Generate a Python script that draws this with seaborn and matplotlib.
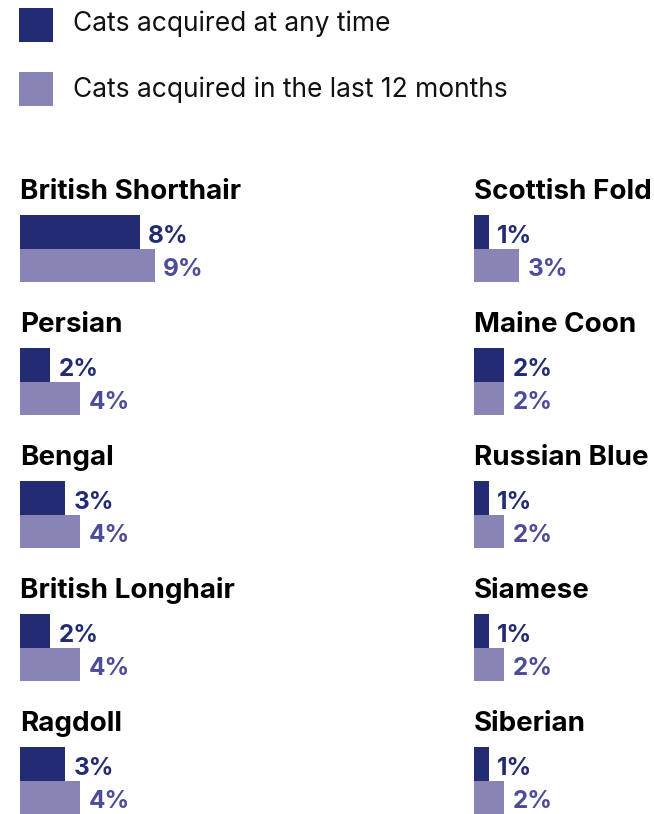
import matplotlib
matplotlib.use("Agg")
import matplotlib.pyplot as plt
from matplotlib.patches import Rectangle
import seaborn as sns
import pandas as pd

# Breed shares (%) by acquisition period
breeds_left = ["British Shorthair", "Persian", "Bengal", "British Longhair", "Ragdoll"]
any_time_left = [8, 2, 3, 2, 3]
last_12m_left = [9, 4, 4, 4, 4]

breeds_right = ["Scottish Fold", "Maine Coon", "Russian Blue", "Siamese", "Siberian"]
any_time_right = [1, 2, 1, 1, 1]
last_12m_right = [3, 2, 2, 2, 2]

series_names = ["Cats acquired at any time", "Cats acquired in the last 12 months"]
bar_colors = ["#232b73", "#8884b6"]
label_colors = ["#232b73", "#4d4c99"]

W, H = 654, 814
sns.set_theme(style="white")
plt.rcParams["font.family"] = ["Inter", "DejaVu Sans"]

fig = plt.figure(figsize=(W / 100, H / 100), dpi=100)
fig.patch.set_facecolor("white")


def fx(x):
    return x / W


def fy(y):
    return 1 - y / H


def px_axes(x, y_top, w, h):
    return fig.add_axes([x / W, 1 - (y_top + h) / H, w / W, h / H])


PX_PER_PCT = 15.0
AX_W = 180
BAR_BLOCK = 67
ROW_STEP = 133


def draw_panel(x0, y_bar_top, breed, v_any, v_recent):
    df = pd.DataFrame({"series": series_names, "value": [v_any, v_recent]})
    ax = px_axes(x0, y_bar_top, AX_W, BAR_BLOCK)
    sns.barplot(data=df, x="value", y="series", hue="series", palette=bar_colors,
                width=1.0, orient="h", legend=False, ax=ax, saturation=1,
                linewidth=0, edgecolor="none")
    ax.set_xlim(0, AX_W / PX_PER_PCT)
    ax.set_ylim(1.5, -0.5)
    ax.set_axis_off()
    for i, v in enumerate([v_any, v_recent]):
        ax.annotate(f"{v}%", xy=(v, i), xytext=(6, -8.0), textcoords="offset points",
                    ha="left", va="baseline", fontsize=17.5, fontweight="bold",
                    color=label_colors[i])
    fig.text(fx(x0), fy(y_bar_top - 16), breed, ha="left", va="baseline",
             fontsize=20, fontweight="bold", color="black")


for col_x, breeds, a_vals, r_vals in [
    (20, breeds_left, any_time_left, last_12m_left),
    (474, breeds_right, any_time_right, last_12m_right),
]:
    for k, (b, a, r) in enumerate(zip(breeds, a_vals, r_vals)):
        draw_panel(col_x, 215 + ROW_STEP * k, b, a, r)

# Legend: colour swatches with series names
for (sq_top, base), name, c in zip([(8, 31), (72, 97)], series_names, bar_colors):
    fig.add_artist(Rectangle((fx(19), fy(sq_top + 34)), 34 / W, 34 / H,
                             transform=fig.transFigure, facecolor=c,
                             edgecolor="none"))
    fig.text(fx(73), fy(base), name, ha="left", va="baseline",
             fontsize=19, color="#111111")

fig.savefig("out.png", dpi=100, facecolor="white")
